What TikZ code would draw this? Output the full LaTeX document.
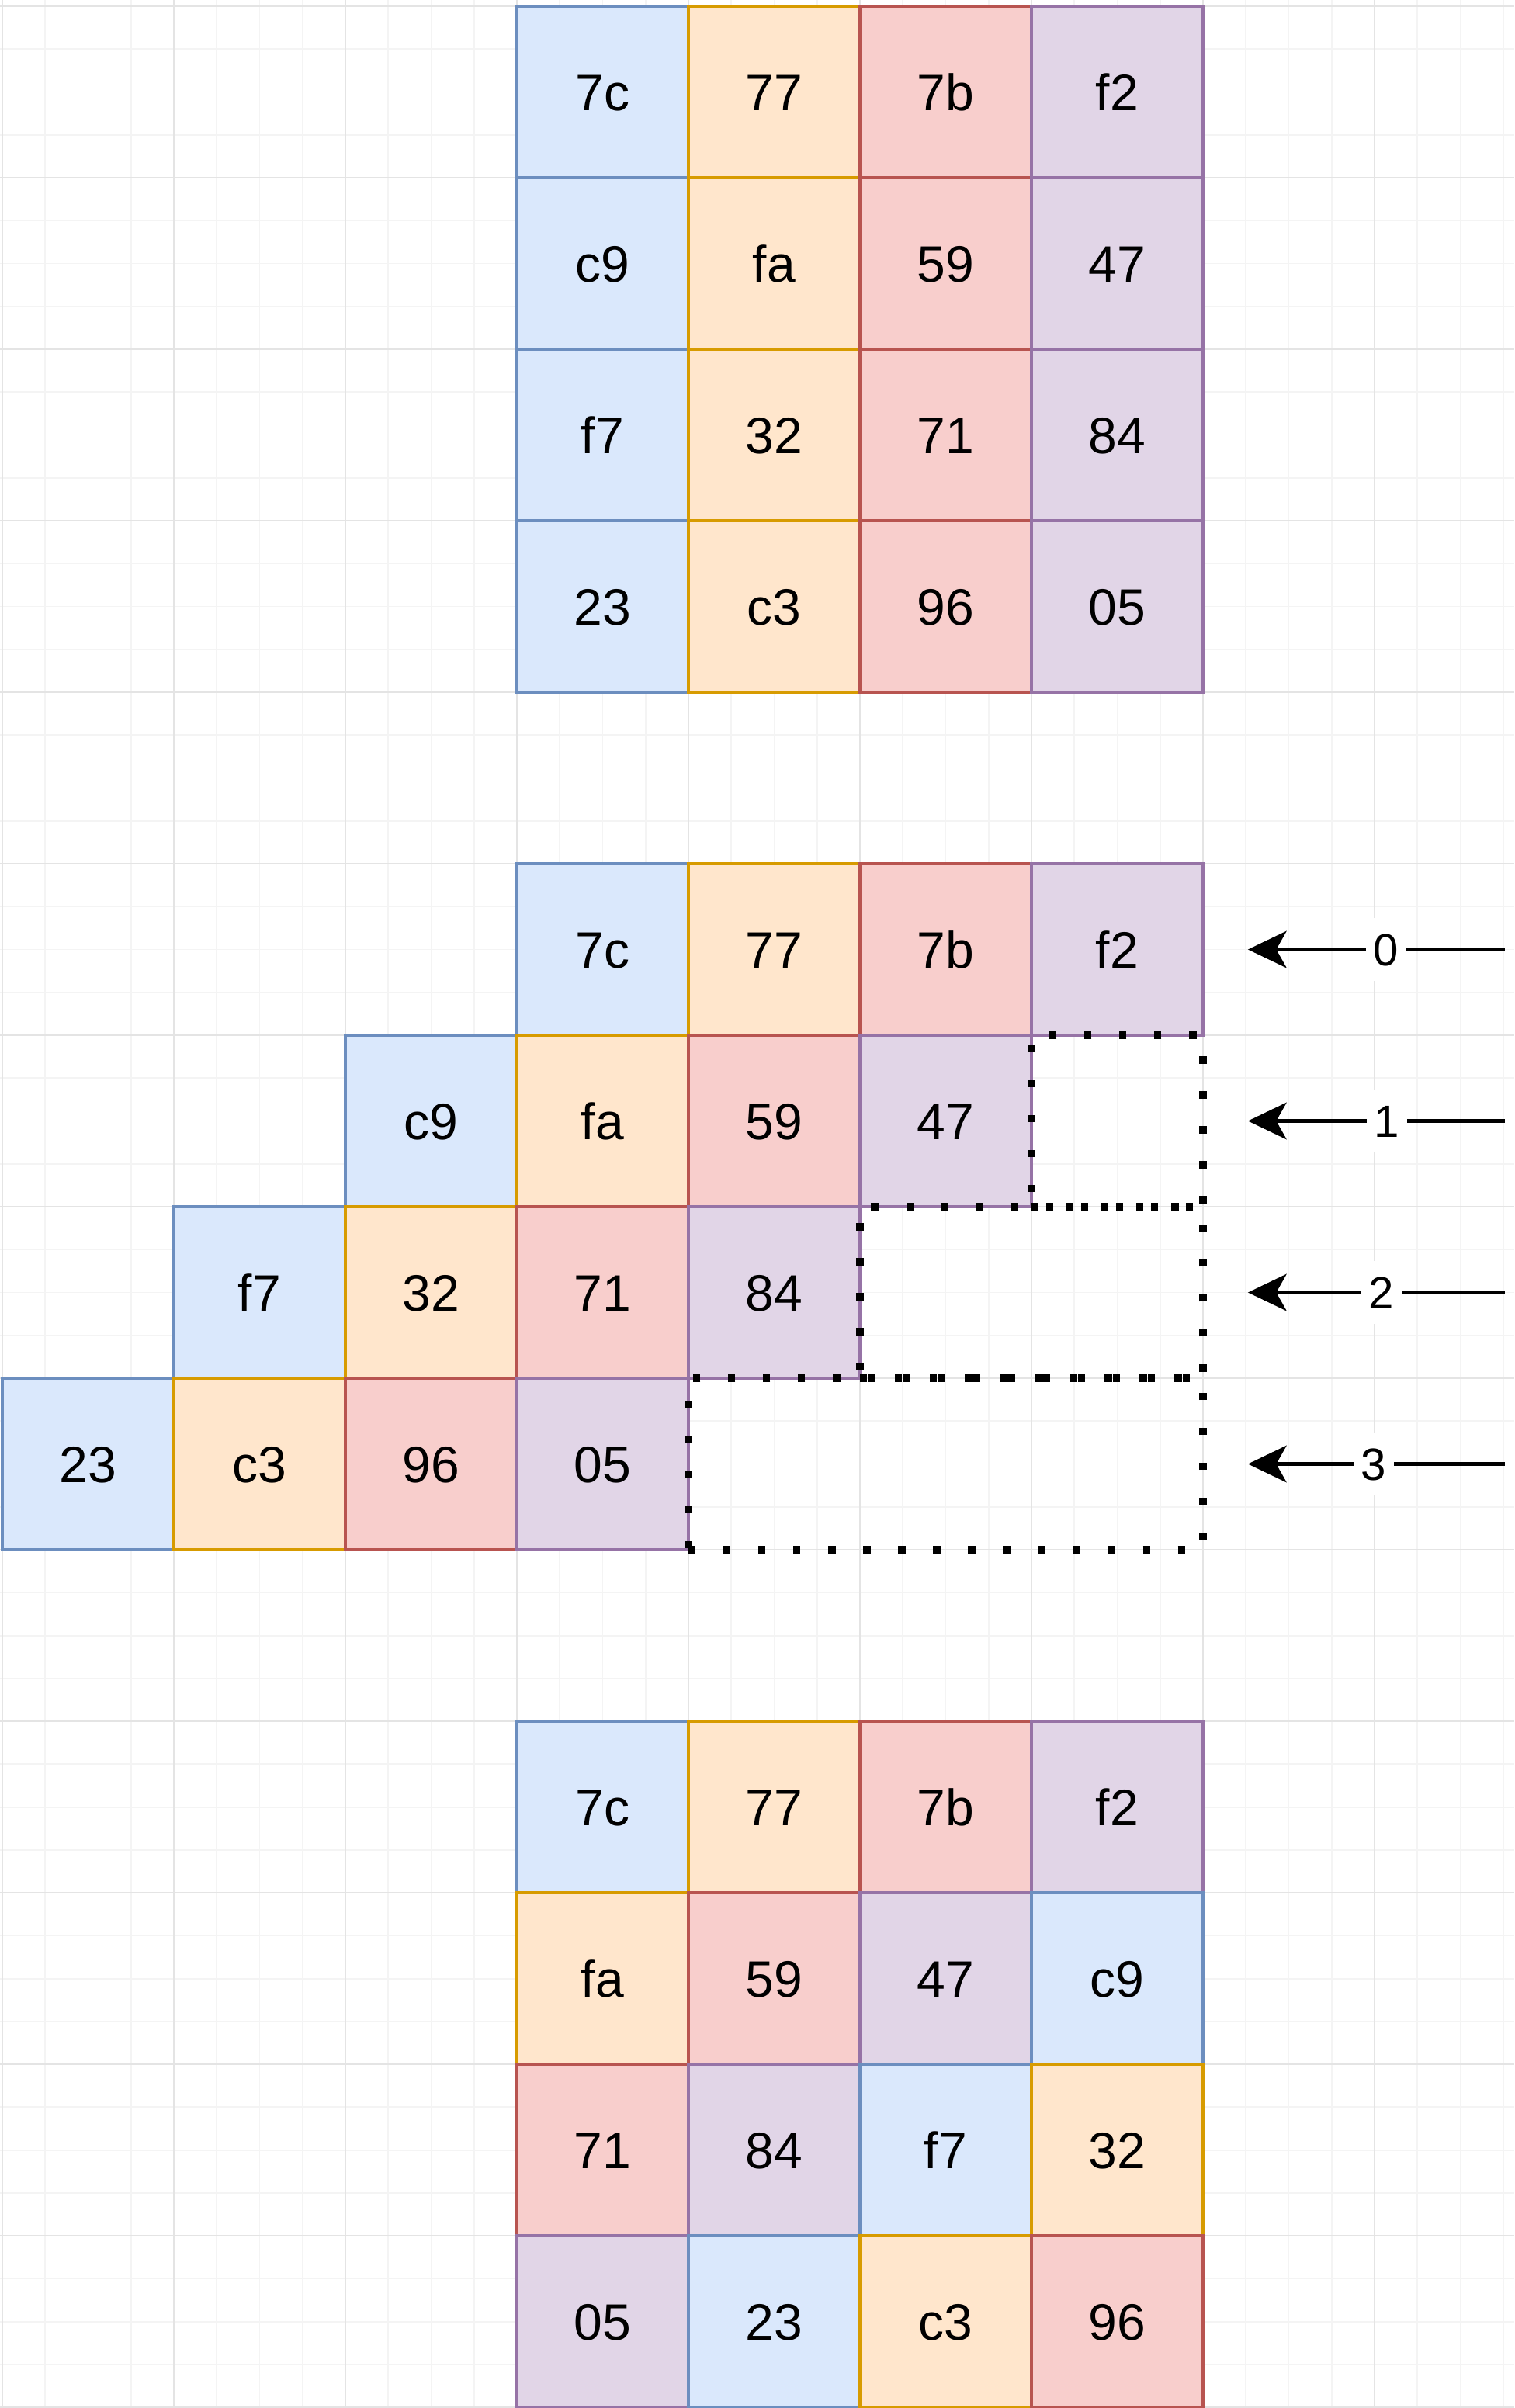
\documentclass[tikz,border=0pt]{standalone}
\usepackage{fontspec}
\setmainfont{Liberation Sans}
\usetikzlibrary{arrows.meta}
\definecolor{bF}{HTML}{DAE8FC}\definecolor{bD}{HTML}{6C8EBF}
\definecolor{oF}{HTML}{FFE6CC}\definecolor{oD}{HTML}{D79B00}
\definecolor{rF}{HTML}{F8CECC}\definecolor{rD}{HTML}{B85450}
\definecolor{pF}{HTML}{E1D5E7}\definecolor{pD}{HTML}{9673A6}
\definecolor{gridmaj}{HTML}{E4E4E4}
\definecolor{gridmin}{HTML}{F4F4F4}
\tikzset{
  cell/.style={draw=#1D, fill=#1F, line width=0.8pt, minimum width=2cm, minimum height=2cm,
    inner sep=0pt, outer sep=0pt, font=\fontsize{17}{20}\selectfont, text height=12.2pt, text depth=0pt},
  dotbox/.style={draw=black, line width=2.4pt, dash pattern=on 2.4pt off 9.2pt, inner sep=0pt, outer sep=0pt},
  arr/.style={draw=black, line width=1.1pt, -{Stealth[length=0.45cm,width=0.43cm,inset=0.12cm]}},
  lbl/.style={fill=white, inner xsep=2.5pt, inner ysep=5pt, font=\fontsize{15}{18}\selectfont, text height=10.75pt, text depth=0pt}
}
\newcommand\mkcell[5]{\node[cell=#5] (#1) at (#2+0.5,-#3-0.5) {#4};}
\begin{document}
\begin{tikzpicture}[x=2cm,y=2cm]
\useasboundingbox (-0.01357,0.0362) rectangle (8.8145,-14.0045);
\fill[white] (-0.01357,0.0362) rectangle (8.8145,-14.0045);
\draw[gridmin, line width=0.5pt, step=0.5cm] (-0.01357,0.0362) grid (8.8145,-14.0045);
\draw[gridmaj, line width=0.5pt, step=2cm] (-0.01357,0.0362) grid (8.8145,-14.0045);
% top grid
\mkcell{a00}{3}{0}{7c}{b}\mkcell{a01}{4}{0}{77}{o}\mkcell{a02}{5}{0}{7b}{r}\mkcell{a03}{6}{0}{f2}{p}
\mkcell{a10}{3}{1}{c9}{b}\mkcell{a11}{4}{1}{fa}{o}\mkcell{a12}{5}{1}{59}{r}\mkcell{a13}{6}{1}{47}{p}
\mkcell{a20}{3}{2}{f7}{b}\mkcell{a21}{4}{2}{32}{o}\mkcell{a22}{5}{2}{71}{r}\mkcell{a23}{6}{2}{84}{p}
\mkcell{a30}{3}{3}{23}{b}\mkcell{a31}{4}{3}{c3}{o}\mkcell{a32}{5}{3}{96}{r}\mkcell{a33}{6}{3}{05}{p}
% middle (shifted)
\mkcell{b00}{3}{5}{7c}{b}\mkcell{b01}{4}{5}{77}{o}\mkcell{b02}{5}{5}{7b}{r}\mkcell{b03}{6}{5}{f2}{p}
\mkcell{b10}{2}{6}{c9}{b}\mkcell{b11}{3}{6}{fa}{o}\mkcell{b12}{4}{6}{59}{r}\mkcell{b13}{5}{6}{47}{p}
\mkcell{b20}{1}{7}{f7}{b}\mkcell{b21}{2}{7}{32}{o}\mkcell{b22}{3}{7}{71}{r}\mkcell{b23}{4}{7}{84}{p}
\mkcell{b30}{0}{8}{23}{b}\mkcell{b31}{1}{8}{c3}{o}\mkcell{b32}{2}{8}{96}{r}\mkcell{b33}{3}{8}{05}{p}
% dotted empty areas
\node[dotbox, minimum width=2cm, minimum height=2cm] (e1) at (6.5,-6.5) {};
\node[dotbox, minimum width=4cm, minimum height=2cm] (e2) at (6,-7.5) {};
\node[dotbox, minimum width=6cm, minimum height=2cm] (e3) at (5.5,-8.5) {};
% arrows
\coordinate (s0) at (8.760,-5.5); \coordinate (t0) at (7.262,-5.5);
\coordinate (s1) at (8.760,-6.5); \coordinate (t1) at (7.262,-6.5);
\coordinate (s2) at (8.760,-7.5); \coordinate (t2) at (7.262,-7.5);
\coordinate (s3) at (8.760,-8.5); \coordinate (t3) at (7.262,-8.5);
\draw[arr] (s0) -- node[lbl, pos=0.462] (l0) {0} (t0);
\draw[arr] (s1) -- node[lbl, pos=0.459] (l1) {1} (t1);
\draw[arr] (s2) -- node[lbl, pos=0.480] (l2) {2} (t2);
\draw[arr] (s3) -- node[lbl, pos=0.511] (l3) {3} (t3);
% bottom grid (rotated rows)
\mkcell{c00}{3}{10}{7c}{b}\mkcell{c01}{4}{10}{77}{o}\mkcell{c02}{5}{10}{7b}{r}\mkcell{c03}{6}{10}{f2}{p}
\mkcell{c10}{3}{11}{fa}{o}\mkcell{c11}{4}{11}{59}{r}\mkcell{c12}{5}{11}{47}{p}\mkcell{c13}{6}{11}{c9}{b}
\mkcell{c20}{3}{12}{71}{r}\mkcell{c21}{4}{12}{84}{p}\mkcell{c22}{5}{12}{f7}{b}\mkcell{c23}{6}{12}{32}{o}
\mkcell{c30}{3}{13}{05}{p}\mkcell{c31}{4}{13}{23}{b}\mkcell{c32}{5}{13}{c3}{o}\mkcell{c33}{6}{13}{96}{r}
\end{tikzpicture}
\end{document}
